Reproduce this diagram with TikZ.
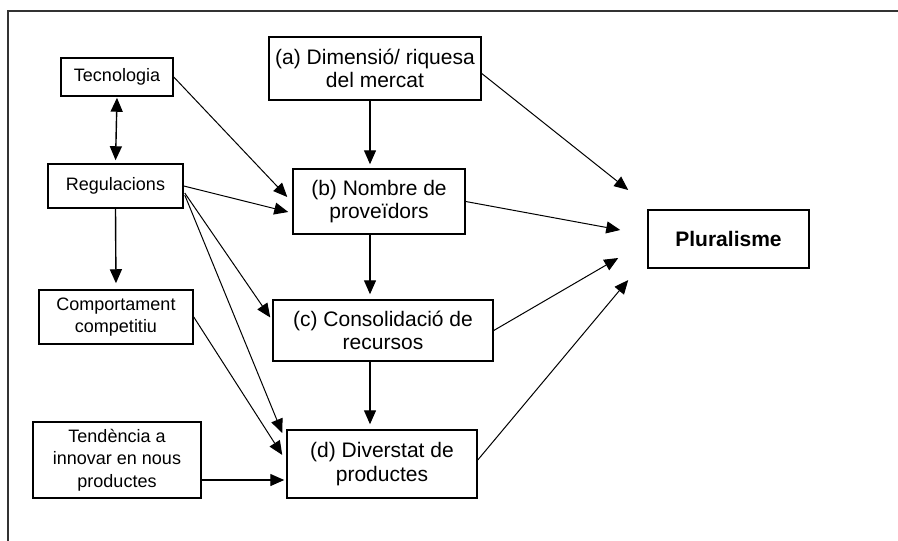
\documentclass[tikz,border=0pt]{standalone}
\usepackage{fontspec}
\setmainfont{Liberation Sans}
\usetikzlibrary{calc}
\usetikzlibrary{arrows.meta}

\begin{document}
\begin{tikzpicture}[x=1pt,y=-1pt]
    \tikzstyle{bx}=[draw,line width=1.5pt,align=center,inner sep=0pt,font=\fontsize{18}{22.5}\selectfont]
    \tikzstyle{bbx}=[bx,font=\fontsize{21}{23.5}\selectfont]
    \tikzstyle{arr}=[-{Triangle[length=14pt,width=12pt]},line width=1pt]
    \tikzstyle{arrb}=[{Triangle[length=14pt,width=12pt]}-{Triangle[length=14pt,width=12pt]},line width=1.4pt]

    \useasboundingbox (0,0) rectangle (898,541);

    % frame
    \draw[line width=2pt,black!80] (898,11) -- (8,11) -- (8,541);

    % left column
    \node[bx,minimum width=112pt,minimum height=38pt] (tec) at (117,77) {Tecnologia};
    \node[bx,minimum width=135pt,minimum height=44pt] (reg) at (115.5,186) {Regulacions};
    \node[bx,minimum width=154pt,minimum height=54pt] (comp) at (116,317) {Comportament\\competitiu};
    \node[bx,minimum width=168pt,minimum height=76pt] (tend) at (117,460) {Tendència a\\innovar en nous\\productes};

    % middle column
    \node[bbx,minimum width=212pt,minimum height=63pt] (dim) at (375,68.5) {(a) Dimensió/ riquesa\\del mercat};
    \node[bbx,minimum width=172pt,minimum height=65pt] (prov) at (379,201.5) {(b) Nombre de\\proveïdors};
    \node[bbx,minimum width=220pt,minimum height=61pt] (cons) at (383,330.5) {(c) Consolidació de\\recursos};
    \node[bbx,minimum width=190pt,minimum height=68pt] (div) at (382,464) {(d) Diverstat de\\productes};

    % result
    \node[bx,minimum width=161pt,minimum height=58pt,font=\fontsize{21}{24}\selectfont\bfseries] (plur) at (728.5,239) {Pluralisme};

    % left arrows
    \draw[arrb,shorten <=1pt,shorten >=3pt] (tec.south) -- (reg.north);
    \draw[arr,line width=1.4pt,shorten >=6pt] (reg.south) -- (comp.north);
    \draw[arr] (tec.east) -- ($(prov.west)+(-5,-4.5)$);
    \draw[arr] (reg.east) -- ($(prov.west)+(-4,10.5)$);
    \draw[arr] ($(reg.east)+(1,7)$) -- ($(cons.west)+(-2,-13)$);
    \draw[arr] ($(reg.east)+(1,9)$) -- ($(div.west)+(-4,-31)$);
    \draw[arr] (comp.east) -- ($(div.west)+(-4,-9)$);
    \draw[arr,line width=1.4pt] ($(tend.east)+(0,20)$) -- ($(div.west)+(-2,16)$);

    % spine
    \coordinate (spine) at (370,0);
    \draw[arr,line width=1.4pt,shorten >=4pt] (dim.south -| spine) -- (prov.north -| spine);
    \draw[arr,line width=1.4pt,shorten >=5pt] (prov.south -| spine) -- (cons.north -| spine);
    \draw[arr,line width=1.4pt,shorten >=5pt] (cons.south -| spine) -- (div.north -| spine);

    % to pluralisme
    \draw[arr] ($(dim.east)+(0,5)$) -- ($(plur.west)+(-19,-49)$);
    \draw[arr] (prov.east) -- ($(plur.west)+(-27,-9)$);
    \draw[arr] (cons.east) -- ($(plur.west)+(-29,19)$);
    \draw[arr] ($(div.east)+(0,-4)$) -- ($(plur.west)+(-19,41)$);
\end{tikzpicture}
\end{document}
